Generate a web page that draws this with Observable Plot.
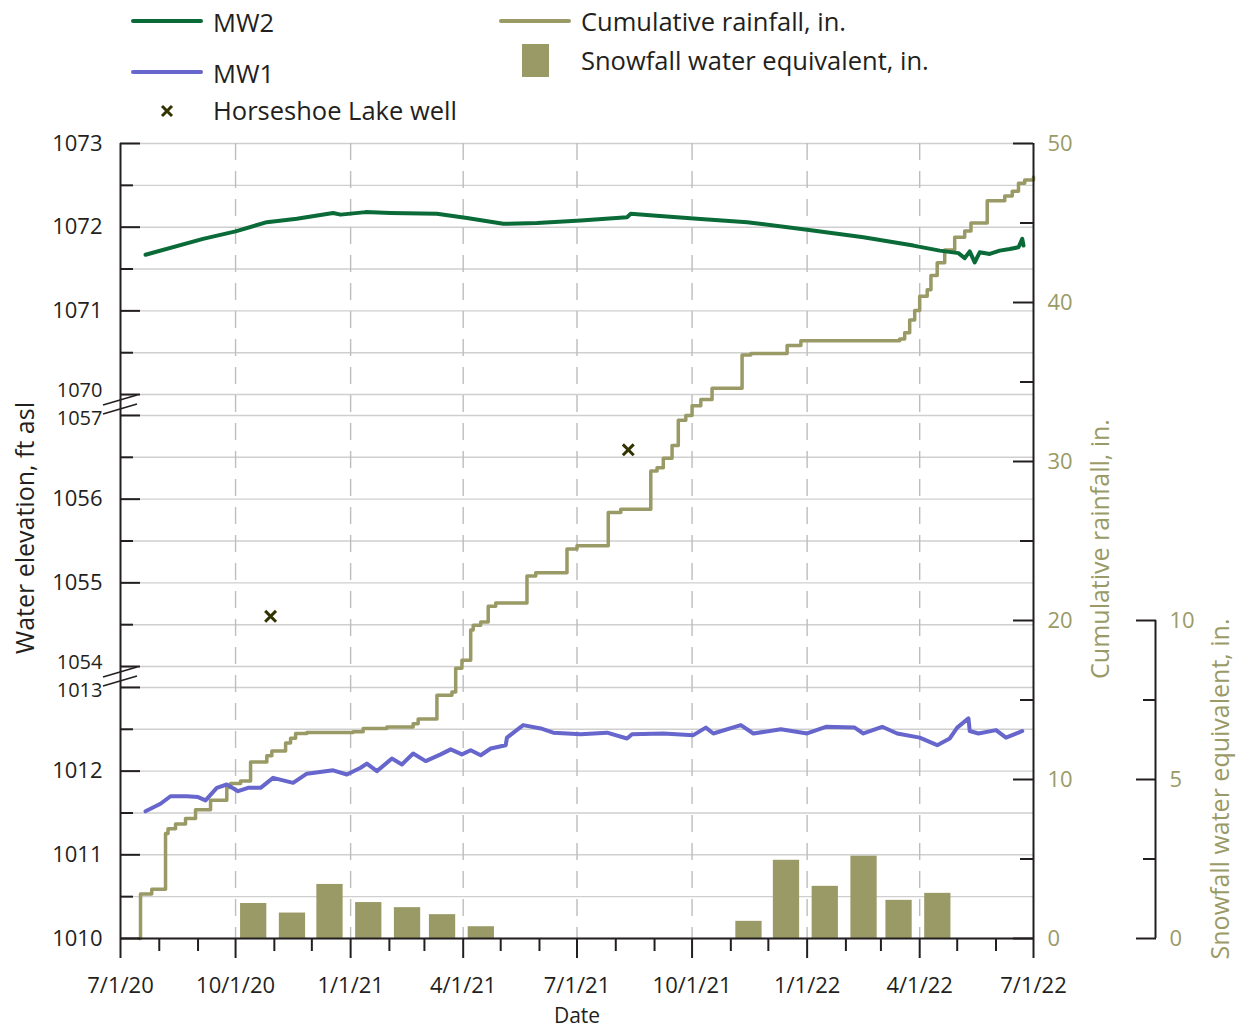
<!DOCTYPE html>
<html><head><meta charset="utf-8">
<script src="https://cdn.jsdelivr.net/npm/d3@7"></script>
<script src="https://cdn.jsdelivr.net/npm/@observablehq/plot@0.6"></script>
<style>
body{margin:0;background:#fff;}
#wrap{position:relative;width:1236px;height:1029px;font-family:"Open Sans",sans-serif;color:#231f20;background:#fff;}
#legend text{font-family:"Open Sans",sans-serif;font-size:25.5px;fill:#231f20;}
</style></head><body>
<div id="wrap">
<svg id="legend" width="1236" height="130" style="position:absolute;left:0;top:0"></svg>
<div id="chart" style="position:absolute;left:0;top:130px"></div>
</div>
<script>
// ---------- DATA ----------
const mw2Dates = ["2020-07-21","2020-09-05","2020-10-01","2020-10-26","2020-11-19","2020-12-18","2020-12-24","2021-01-13","2021-02-02","2021-03-11","2021-04-04","2021-05-03","2021-05-30","2021-07-04","2021-08-10","2021-08-13","2021-08-31","2021-10-05","2021-11-14","2022-01-01","2022-02-15","2022-03-27","2022-04-17","2022-05-02","2022-05-07","2022-05-11","2022-05-15","2022-05-19","2022-05-27","2022-06-04","2022-06-12","2022-06-19","2022-06-22","2022-06-23"];
const mw2Values = [1071.67,1071.86,1071.95,1072.06,1072.10,1072.17,1072.15,1072.18,1072.17,1072.16,1072.11,1072.04,1072.05,1072.08,1072.12,1072.16,1072.14,1072.10,1072.06,1071.97,1071.88,1071.78,1071.72,1071.69,1071.63,1071.71,1071.58,1071.70,1071.68,1071.72,1071.74,1071.76,1071.86,1071.78];

const mw1Dates = ["2020-07-21","2020-08-02","2020-08-10","2020-08-23","2020-09-01","2020-09-07","2020-09-16","2020-09-24","2020-10-03","2020-10-11","2020-10-21","2020-10-31","2020-11-16","2020-11-27","2020-12-18","2020-12-29","2021-01-09","2021-01-14","2021-01-22","2021-02-03","2021-02-11","2021-02-20","2021-03-02","2021-03-14","2021-03-22","2021-03-31","2021-04-07","2021-04-15","2021-04-23","2021-05-05","2021-05-06","2021-05-19","2021-06-02","2021-06-12","2021-07-04","2021-07-25","2021-08-10","2021-08-14","2021-09-08","2021-10-02","2021-10-12","2021-10-18","2021-11-09","2021-11-19","2021-12-11","2022-01-01","2022-01-16","2022-02-08","2022-02-15","2022-03-02","2022-03-14","2022-04-01","2022-04-15","2022-04-25","2022-05-01","2022-05-10","2022-05-11","2022-05-18","2022-06-01","2022-06-09","2022-06-19","2022-06-22"];
const mw1Values = [1011.52,1011.61,1011.70,1011.70,1011.69,1011.65,1011.80,1011.84,1011.76,1011.80,1011.80,1011.92,1011.86,1011.97,1012.01,1011.96,1012.04,1012.09,1012.00,1012.15,1012.08,1012.21,1012.12,1012.20,1012.26,1012.20,1012.25,1012.19,1012.27,1012.31,1012.40,1012.55,1012.51,1012.46,1012.44,1012.46,1012.39,1012.44,1012.45,1012.43,1012.52,1012.45,1012.55,1012.45,1012.50,1012.45,1012.53,1012.52,1012.45,1012.53,1012.45,1012.40,1012.31,1012.39,1012.52,1012.63,1012.48,1012.45,1012.49,1012.40,1012.46,1012.48];

const rainDates = ["2020-07-16","2020-07-17","2020-07-26","2020-08-06","2020-08-08","2020-08-14","2020-08-22","2020-08-30","2020-09-11","2020-09-24","2020-09-27","2020-10-05","2020-10-13","2020-10-26","2020-10-30","2020-11-10","2020-11-14","2020-11-18","2020-11-27","2021-01-03","2021-01-11","2021-01-30","2021-02-20","2021-02-24","2021-03-11","2021-03-23","2021-03-26","2021-03-31","2021-04-07","2021-04-09","2021-04-15","2021-04-21","2021-04-27","2021-05-22","2021-05-29","2021-06-23","2021-07-01","2021-07-26","2021-08-05","2021-08-29","2021-09-03","2021-09-08","2021-09-15","2021-09-20","2021-09-26","2021-10-01","2021-10-08","2021-10-17","2021-11-10","2021-11-17","2021-12-16","2021-12-27","2022-03-16","2022-03-20","2022-03-24","2022-03-28","2022-04-01","2022-04-07","2022-04-10","2022-04-15","2022-04-21","2022-04-29","2022-05-07","2022-05-12","2022-05-25","2022-06-08","2022-06-14","2022-06-19","2022-06-24","2022-07-01"];
const rainValues = [0,2.8,3.1,6.6,6.9,7.2,7.55,8.1,8.7,9.5,9.75,9.9,11.1,11.5,11.8,12.3,12.6,12.9,12.96,13.0,13.2,13.3,13.5,13.8,15.3,15.5,17.0,17.5,19.4,19.7,19.9,20.9,21.1,22.8,23.0,24.5,24.7,26.8,27.0,29.4,29.6,30.2,31.0,32.6,32.9,33.5,33.9,34.6,36.7,36.8,37.3,37.6,37.7,38.1,38.9,39.5,40.4,40.8,41.7,42.5,43.3,44.1,44.5,45.0,46.4,46.7,47.0,47.5,47.7,47.9];

const snowMonths = ["2020-10-01","2020-11-01","2020-12-01","2021-01-01","2021-02-01","2021-03-01","2021-04-01","2021-11-01","2021-12-01","2022-01-01","2022-02-01","2022-03-01","2022-04-01"];
const snowValues = [1.1,0.8,1.7,1.13,0.97,0.75,0.37,0.54,2.46,1.64,2.59,1.2,1.42];

const wellDates = ["2020-10-29","2021-08-11"];
const wellValues = [1054.6,1056.59];

const elevMajor = [1010,1011,1012,1013,1054,1055,1056,1057,1070,1071,1072,1073];
const elevMinor = [1010.5,1011.5,1012.5,1054.5,1055.5,1056.5,1070.5,1071.5,1072.5];
const rainMajor = [0,10,20,30,40,50];
const rainMinor = [5,15,25,35,45];
const snowMajor = [0,5,10];
const snowMinor = [2.5,7.5];

// ---------- SETUP ----------
const parse = d3.utcParse("%Y-%m-%d");
const olive = "#9a9a66", ink = "#231f20", green = "#0b6b38", purple = "#6666cc", xcol = "#333300";
const W = 1236, H = 899, ML = 120, MR = 203, MT = 13, MB = 91;
const plotW = W - ML - MR;
const segs = [[1070, 6.5], [1054, 3.25], [1010, 0]];
const elevU = v => { for (const [lo, base] of segs) if (v >= lo - 0.01) return v - lo + base; return v - 1010; };
const rainU = r => r * 9.5 / 50;
const snowU = s => s * 2 * 9.5 / 50;
const key = u => +u.toFixed(4);

const mw2 = mw2Dates.map((d, i) => ({date: parse(d), u: elevU(mw2Values[i])}));
const mw1 = mw1Dates.map((d, i) => ({date: parse(d), u: elevU(mw1Values[i])}));
const rain = rainDates.map((d, i) => ({date: parse(d), u: rainU(rainValues[i])}));
const snow = snowMonths.map((d, i) => ({x1: d3.utcDay.offset(parse(d), 4), x2: d3.utcDay.offset(parse(d), 25), u: snowU(snowValues[i])}));
const wells = wellDates.map((d, i) => ({date: parse(d), u: elevU(wellValues[i])}));

const xDomain = [parse("2020-07-01"), parse("2022-07-01")];
const quarters = d3.utcMonth.every(3).range(xDomain[0], d3.utcDay.offset(xDomain[1], 1));
const months = d3.utcMonth.range(xDomain[0], d3.utcDay.offset(xDomain[1], 1)).filter(m => !quarters.some(q => +q === +m));
const innerQuarters = quarters.slice(1, -1);
const fmt = d3.utcFormat("%-m/%-d/%y");

const elevMajorU = elevMajor.map(elevU), elevMinorU = elevMinor.map(elevU);
const elevLabel = new Map(elevMajor.map(v => [key(elevU(v)), String(v)]));
// labels beside an axis break are set a little smaller and nudged apart
const breakUpper = [1070, 1054].map(v => key(elevU(v)));
const breakLower = [1057, 1013].map(v => key(elevU(v)));
const elevPlain = elevMajorU.filter(u => !breakUpper.includes(key(u)) && !breakLower.includes(key(u)));
const rainMajorU = rainMajor.map(rainU), rainMinorU = rainMinor.map(rainU);
const rainLabel = new Map(rainMajor.map(v => [key(rainU(v)), String(v)]));
const snowMajorU = snowMajor.map(snowU), snowMinorU = snowMinor.map(snowU);
const snowLabel = new Map(snowMajor.map(v => [key(snowU(v)), String(v)]));
const leftLab = {anchor: "left", tickSize: 0, tickPadding: 18, tickFormat: u => elevLabel.get(key(u)), fill: ink, fontSize: 22, label: null};

const chart = Plot.plot({
  width: W, height: H, marginLeft: ML, marginRight: MR, marginTop: MT, marginBottom: MB,
  style: {fontFamily: "'Open Sans', sans-serif", fontSize: "22px", color: ink, background: "white", overflow: "visible"},
  x: {type: "utc", domain: xDomain},
  y: {domain: [0, 9.5]},
  marks: [
    Plot.ruleY([...elevMajorU, ...elevMinorU], {stroke: "#cfcfcf", strokeWidth: 1.4}),
    Plot.ruleX(innerQuarters, {stroke: "#bdbdbd", strokeWidth: 1.4, strokeDasharray: "17,11"}),
    Plot.rect(snow, {x1: "x1", x2: "x2", y1: 0, y2: "u", fill: olive}),
    Plot.line(rain, {x: "date", y: "u", curve: "step-after", stroke: olive, strokeWidth: 3.5}),
    Plot.line(mw1, {x: "date", y: "u", stroke: purple, strokeWidth: 4}),
    Plot.line(mw2, {x: "date", y: "u", stroke: green, strokeWidth: 4}),
    Plot.dot(wells, {x: "date", y: "u", symbol: "times", r: 5, stroke: xcol, strokeWidth: 3}),
    // axis lines
    Plot.ruleX(xDomain, {stroke: ink, strokeWidth: 2}),
    Plot.ruleY([0], {stroke: ink, strokeWidth: 2}),
    // inward ticks, left and right
    Plot.ruleY(elevMajorU, {insetRight: plotW - 20, stroke: ink, strokeWidth: 2}),
    Plot.ruleY(elevMinorU, {insetRight: plotW - 13, stroke: ink, strokeWidth: 2}),
    Plot.ruleY(rainMajorU, {insetLeft: plotW - 20, stroke: ink, strokeWidth: 2}),
    Plot.ruleY(rainMinorU, {insetLeft: plotW - 13, stroke: ink, strokeWidth: 2}),
    // bottom axis
    Plot.axisX(quarters, {tickSize: 20, tickPadding: 19, tickFormat: fmt, strokeWidth: 2, stroke: ink, fill: ink, fontSize: 22, label: null}),
    Plot.axisX(months, {tickSize: 13, tickFormat: () => "", strokeWidth: 2, stroke: ink, label: null}),
    // left labels
    Plot.axisY(elevPlain, leftLab),
    Plot.axisY(elevMajorU.filter(u => breakUpper.includes(key(u))), {...leftLab, fontSize: 20, dy: -3.5}),
    Plot.axisY(elevMajorU.filter(u => breakLower.includes(key(u))), {...leftLab, fontSize: 20, dy: 3.5}),
    // rainfall labels
    Plot.axisY(rainMajorU, {anchor: "right", tickSize: 0, tickPadding: 14, tickFormat: u => rainLabel.get(key(u)), fill: olive, fontSize: 22, label: null}),
    // snowfall axis
    Plot.ruleX([xDomain[1]], {y1: 0, y2: snowU(10), dx: 122, stroke: ink, strokeWidth: 2}),
    Plot.axisY(snowMajorU, {anchor: "right", dx: 102, tickSize: 20, tickFormat: () => "", stroke: ink, strokeWidth: 2, label: null}),
    Plot.axisY(snowMinorU, {anchor: "right", dx: 109, tickSize: 13, tickFormat: () => "", stroke: ink, strokeWidth: 2, label: null}),
    Plot.axisY(snowMajorU, {anchor: "right", dx: 122, tickSize: 0, tickPadding: 14, tickFormat: u => snowLabel.get(key(u)), fill: olive, fontSize: 22, label: null}),
    // titles
    Plot.text(["Water elevation, ft asl"], {frameAnchor: "left", dx: -95, dy: -13, rotate: -90, textAnchor: "middle", lineAnchor: "middle", fill: ink, fontSize: 25}),
    Plot.text(["Cumulative rainfall, in."], {frameAnchor: "right", dx: 67, dy: 8, rotate: -90, textAnchor: "middle", lineAnchor: "middle", fill: olive, fontSize: 25}),
    Plot.text(["Snowfall water equivalent, in."], {frameAnchor: "right", dx: 187, dy: 248, rotate: -90, textAnchor: "middle", lineAnchor: "middle", fill: olive, fontSize: 25}),
    Plot.text(["Date"], {frameAnchor: "bottom", dy: 78, textAnchor: "middle", lineAnchor: "middle", fill: ink, fontSize: 21})
  ]
});
document.getElementById("chart").appendChild(chart);

// axis break marks
const ys = chart.scale("y"), xs = chart.scale("x");
const svg = d3.select(chart);
const x0 = xs.apply(xDomain[0]);
for (const mid of [(elevU(1013) + elevU(1054)) / 2, (elevU(1057) + elevU(1070)) / 2]) {
  const yc = ys.apply(mid);
  for (const off of [-4.5, 4.5]) {
    svg.append("line").attr("x1", x0 - 17).attr("y1", yc + off + 5).attr("x2", x0 + 17).attr("y2", yc + off - 5)
      .attr("stroke", ink).attr("stroke-width", 1.6);
  }
}

// legend
const lg = d3.select("#legend");
lg.append("line").attr("x1", 133).attr("x2", 201).attr("y1", 21).attr("y2", 21).attr("stroke", green).attr("stroke-width", 4).attr("stroke-linecap", "round");
lg.append("text").attr("x", 213).attr("y", 32).text("MW2");
lg.append("line").attr("x1", 133).attr("x2", 201).attr("y1", 72).attr("y2", 72).attr("stroke", purple).attr("stroke-width", 4).attr("stroke-linecap", "round");
lg.append("text").attr("x", 213).attr("y", 83).text("MW1");
lg.append("path").attr("d", "M162,106L172,116M172,106L162,116").attr("stroke", xcol).attr("stroke-width", 3);
lg.append("text").attr("x", 213).attr("y", 120).text("Horseshoe Lake well");
lg.append("line").attr("x1", 501).attr("x2", 569).attr("y1", 21).attr("y2", 21).attr("stroke", olive).attr("stroke-width", 4).attr("stroke-linecap", "round");
lg.append("text").attr("x", 581).attr("y", 31).text("Cumulative rainfall, in.");
lg.append("rect").attr("x", 522).attr("y", 44).attr("width", 27).attr("height", 33).attr("fill", olive);
lg.append("text").attr("x", 581).attr("y", 70).text("Snowfall water equivalent, in.");
</script>
</body></html>
